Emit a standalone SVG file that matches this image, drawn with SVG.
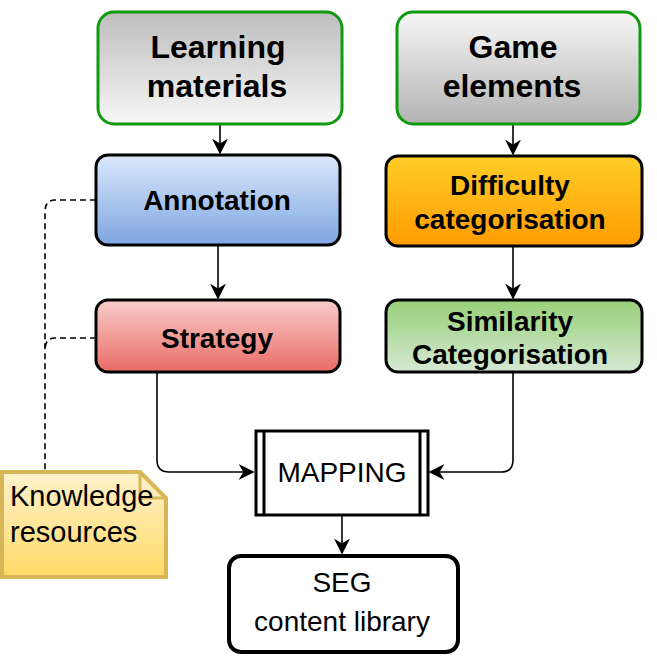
<svg xmlns="http://www.w3.org/2000/svg" width="657" height="669" viewBox="0 0 657 669">
<style>
.b{font-family:"Liberation Sans",Arial,sans-serif;font-weight:bold;text-anchor:middle;fill:#000}
.n{font-family:"Liberation Sans",Arial,sans-serif;text-anchor:middle;fill:#000}
.s{font-family:"Liberation Sans",Arial,sans-serif;text-anchor:start;fill:#000}
.c{fill:none;stroke:#000;stroke-width:1.6}
</style>
<defs>
<linearGradient id="g1" x1="0" y1="0" x2="0" y2="1"><stop offset="0" stop-color="#bdbdbd"/><stop offset="1" stop-color="#f7f7f7"/></linearGradient>
<linearGradient id="g2" x1="0" y1="0" x2="0" y2="1"><stop offset="0" stop-color="#f7f7f7"/><stop offset="1" stop-color="#b3b3b3"/></linearGradient>
<linearGradient id="gb" x1="0" y1="0" x2="0" y2="1"><stop offset="0" stop-color="#dae8fc"/><stop offset="1" stop-color="#7ea6e0"/></linearGradient>
<linearGradient id="go" x1="0" y1="0" x2="0" y2="1"><stop offset="0" stop-color="#ffcd28"/><stop offset="1" stop-color="#ff9c00"/></linearGradient>
<linearGradient id="gr" x1="0" y1="0" x2="0" y2="1"><stop offset="0" stop-color="#f8cecc"/><stop offset="1" stop-color="#ea6b66"/></linearGradient>
<linearGradient id="gg" x1="0" y1="0" x2="0" y2="1"><stop offset="0" stop-color="#97d077"/><stop offset="1" stop-color="#d5e8d4"/></linearGradient>
<linearGradient id="gy" x1="0" y1="0" x2="0" y2="1"><stop offset="0" stop-color="#fff2cc"/><stop offset="1" stop-color="#ffd966"/></linearGradient>
<marker id="a2" viewBox="0 0 10 10" refX="9" refY="5" markerWidth="16" markerHeight="16" orient="auto" markerUnits="userSpaceOnUse"><path d="M0,0 L10,5 L0,10 L3,5 Z" fill="#000"/></marker>
</defs>
<g id="connectors">
<path class="c" d="M220,124 V153" marker-end="url(#a2)"/>
<path class="c" d="M513,124 V154" marker-end="url(#a2)"/>
<path class="c" d="M218,245 V298" marker-end="url(#a2)"/>
<path class="c" d="M513,246 V298" marker-end="url(#a2)"/>
<path class="c" d="M157,372 V460 Q157,472 169,472 H253" marker-end="url(#a2)"/>
<path class="c" d="M513,372 V460 Q513,472 501,472 H430" marker-end="url(#a2)"/>
<path class="c" d="M342,514 V553" marker-end="url(#a2)"/>
<path class="c" d="M96,200 H55 Q45,200 45,212 V470" stroke-dasharray="6,4"/>
<path class="c" d="M96,338 H55 Q45,338 45,350" stroke-dasharray="6,4"/>
</g>
<g id="learning"><rect x="98" y="12" width="244" height="112" rx="16" fill="url(#g1)" stroke="#119911" stroke-width="3"/><text class="b" x="218" y="58" font-size="32">Learning</text><text class="b" x="217" y="97" font-size="32">materials</text></g>
<g id="game"><rect x="397" y="12" width="243" height="112" rx="16" fill="url(#g2)" stroke="#119911" stroke-width="3"/><text class="b" x="513" y="58" font-size="32">Game</text><text class="b" x="512" y="97" font-size="32">elements</text></g>
<g id="annotation"><rect x="96" y="155" width="244" height="90" rx="12" fill="url(#gb)" stroke="#000" stroke-width="3"/><text class="b" x="217" y="210" font-size="28">Annotation</text></g>
<g id="difficulty"><rect x="386" y="156" width="256" height="90" rx="12" fill="url(#go)" stroke="#000" stroke-width="3"/><text class="b" x="510" y="195" font-size="28">Difficulty</text><text class="b" x="510" y="229" font-size="28">categorisation</text></g>
<g id="strategy"><rect x="96" y="300" width="244" height="72" rx="12" fill="url(#gr)" stroke="#000" stroke-width="3"/><text class="b" x="217" y="348" font-size="28">Strategy</text></g>
<g id="similarity"><rect x="386" y="300" width="256" height="72" rx="12" fill="url(#gg)" stroke="#000" stroke-width="3"/><text class="b" x="510" y="331" font-size="28">Similarity</text><text class="b" x="510" y="364" font-size="28">Categorisation</text></g>
<g id="mapping"><rect x="256" y="431" width="172" height="84" fill="#fff" stroke="#000" stroke-width="3"/><path d="M264,431 V515 M420,431 V515" stroke="#000" stroke-width="3"/><text class="n" x="342" y="482" font-size="28">MAPPING</text></g>
<g id="seg"><rect x="229" y="556" width="229" height="96" rx="12" fill="#fff" stroke="#000" stroke-width="4"/><text class="n" x="342" y="592" font-size="28">SEG</text><text class="n" x="342" y="631" font-size="28">content library</text></g>
<g id="knowledge"><path d="M2,472 H140 L166,498 V577 H2 Z" fill="url(#gy)" stroke="#d6b656" stroke-width="4"/><path d="M140,472 V498 H166" fill="none" stroke="#d6b656" stroke-width="3"/><text class="s" x="10" y="506" font-size="29">Knowledge</text><text class="s" x="10" y="542" font-size="29">resources</text></g>
</svg>
